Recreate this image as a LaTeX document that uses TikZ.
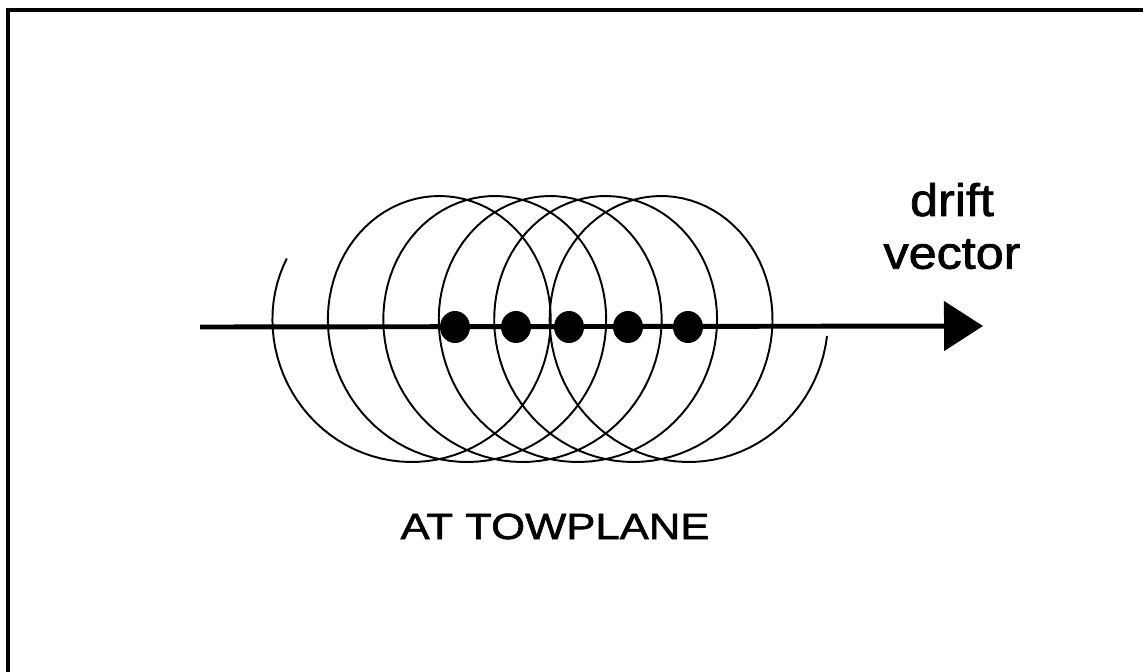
\documentclass[tikz,border=0pt]{standalone}
\usepackage{fontspec}
\newfontfamily\driftfont[FakeStretch=1.1, FakeBold=1.6]{Liberation Sans}
\newfontfamily\towfont[FakeStretch=1.2, FakeBold=1.6]{Liberation Sans}
\usetikzlibrary{arrows.meta, shapes.geometric}

\begin{document}
\begin{tikzpicture}[
      x=0.2mm, y=-0.2mm,
      frame/.style={draw, line width=2.3pt},
      loopline/.style={draw, line width=1.1pt, line join=round},
      vec/.style={draw, line width=2.8pt, -{Triangle[length=7.8mm, width=9.8mm]}},
      dot/.style={ellipse, fill, inner sep=0pt, minimum width=6mm, minimum height=6.4mm},
      drifttext/.style={font=\driftfont\fontsize{26}{30}\selectfont, align=center, inner sep=0pt},
      towtext/.style={font=\towfont\fontsize{20.7}{24}\selectfont, inner sep=0pt}
    ]
      \useasboundingbox (0,0) rectangle (1143,672);
      \clip (0,0) rectangle (1143,672);
      \draw[frame] (8,10) rectangle (1200,740);
      % loops drifting with the wind
      \draw[loopline] plot[domain=148:2157, samples=500]
        ({370+0.154*\x+125*cos(\x)}, {329-133*sin(\x)});
      \coordinate (tail) at (200,327);
      \coordinate (tip) at (983,326);
      \draw[vec] (tail) -- (tip);
      \foreach \i/\xx in {1/455, 2/516, 3/569, 4/628, 5/688}
        \node[dot] (dot\i) at (\xx,327) {};
      \node[drifttext] (drift) at (952,226) {drift\\vector};
      \node[towtext, anchor=base] (tow) at (555,539) {AT TOWPLANE};
    \end{tikzpicture}
\end{document}
